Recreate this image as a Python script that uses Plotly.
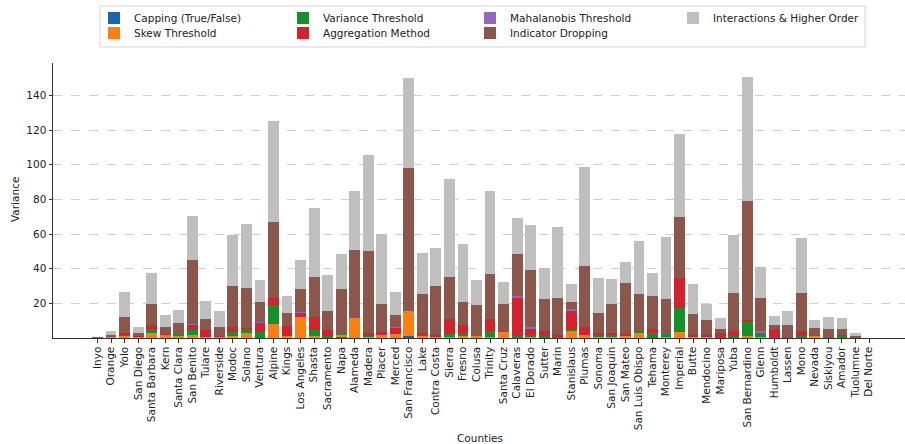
import plotly.graph_objects as go

counties = [
    "Inyo", "Orange", "Yolo", "San Diego", "Santa Barbara", "Kern", "Santa Clara",
    "San Benito", "Tulare", "Riverside", "Modoc", "Solano", "Ventura", "Alpine",
    "Kings", "Los Angeles", "Shasta", "Sacramento", "Napa", "Alameda", "Madera",
    "Placer", "Merced", "San Francisco", "Lake", "Contra Costa", "Sierra", "Fresno",
    "Colusa", "Trinity", "Santa Cruz", "Calaveras", "El Dorado", "Sutter", "Marin",
    "Stanislaus", "Plumas", "Sonoma", "San Joaquin", "San Mateo", "San Luis Obispo",
    "Tehama", "Monterey", "Imperial", "Butte", "Mendocino", "Mariposa", "Yuba",
    "San Bernardino", "Glenn", "Humboldt", "Lassen", "Mono", "Nevada", "Siskiyou",
    "Amador", "Tuolumne", "Del Norte",
]

# variance contribution of each uncertainty source, per county
capping = [0, 0, 0, 0, 0, 0, 0, 0, 0, 0, 0, 0, 0, 0, 0, 0, 0, 0, 0.9, 0,
           0, 0, 0, 1.0, 0, 0, 0, 0, 0, 0, 0, 0, 0, 0, 0, 0, 0, 0, 0, 0,
           0, 0, 0, 0, 0, 0, 0, 0, 0, 0, 0, 0, 0, 0, 0, 0, 0, 0]
skew = [0, 0.6, 1.0, 1.0, 2.7, 1.9, 1.5, 1.7, 0.5, 1.0, 1.2, 3.1, 0, 7.9, 1.0, 12.1,
        1.0, 0, 1.0, 11.8, 0.7, 1.7, 2.1, 14.6, 1.2, 0.8, 0.8, 1.2, 1.0, 0.3, 3.5, 0,
        1.0, 0, 0, 4.0, 1.7, 1.0, 1.0, 1.0, 2.7, 0, 0.5, 3.3, 0.5, 0.5, 0, 0,
        1.3, 0.5, 0, 0, 0, 1.3, 0, 0, 0, 0]
variance = [0, 0, 1.3, 0, 2.5, 0, 0.6, 2.9, 0, 0, 2.3, 2.3, 3.5, 11.0, 0, 0,
            3.6, 1.0, 0.4, 0, 0.6, 0, 0, 0, 0.9, 0, 1.3, 0.9, 0, 3.7, 0.7, 1.0,
            0.7, 1.0, 1.0, 1.4, 0, 0.7, 0.9, 0, 1.3, 2.7, 1.6, 14.0, 0, 0, 0.8, 1.2,
            8.3, 2.6, 0.4, 0.3, 1.2, 0.5, 0, 1.3, 0, 0]
aggregation = [0, 0.3, 0.8, 0.3, 2.1, 0.3, 0, 3.3, 3.9, 0.2, 2.9, 0.3, 5.7, 4.2, 6.1, 2.5,
               7.5, 3.4, 0, 0, 1.6, 1.6, 4.0, 0, 0.8, 0.9, 9.1, 5.6, 0, 7.2, 0, 22.1,
               3.7, 3.0, 0.9, 10.4, 4.5, 1.4, 0.8, 1.5, 0, 2.7, 0, 17.2, 1.4, 1.2, 2.3, 2.8,
               0.8, 0.3, 5.0, 0, 2.8, 0, 0, 0.3, 0.2, 0]
mahalanobis = [0, 0, 0, 0, 0, 0, 0, 0.4, 0, 0, 0, 0, 0.3, 0, 0, 0.3,
               0, 0, 0, 0, 0, 0, 0.3, 0, 0, 0, 0, 0, 0, 0, 0, 1.2,
               1.0, 0, 0, 0.8, 0, 0, 0, 0, 0, 0, 0, 0, 0, 0, 0, 0,
               0, 0.6, 0, 0, 0, 0, 0, 0, 0, 0]
indicator = [0.4, 1.0, 9.0, 1.8, 12.2, 4.0, 6.8, 36.6, 6.8, 5.4, 23.5, 23.0, 11.1, 44.1, 7.2, 13.4,
             23.2, 11.2, 25.8, 39.1, 47.4, 16.5, 6.9, 82.5, 22.7, 28.2, 24.1, 13.1, 18.3, 26.0, 15.6, 23.9,
             32.9, 18.4, 21.2, 4.4, 35.4, 11.5, 16.8, 29.1, 21.6, 18.7, 20.6, 35.1, 11.8, 8.7, 2.3, 22.2,
             68.8, 19.1, 2.3, 7.4, 22.2, 4.0, 5.0, 3.6, 1.0, 0]
interactions = [0, 2.1, 14.3, 3.3, 17.9, 7.3, 7.3, 25.6, 10.2, 9.0, 29.8, 37.2, 13.1, 58.2, 10.0, 17.0,
                39.5, 20.8, 20.1, 33.7, 55.5, 40.3, 13.5, 52.0, 23.3, 22.1, 56.6, 33.5, 14.0, 47.8, 12.6, 21.0,
                26.2, 17.9, 40.7, 10.4, 57.2, 20.3, 14.4, 12.5, 30.5, 13.3, 35.7, 48.3, 17.7, 9.4, 6.0, 33.1,
                71.3, 17.9, 5.0, 7.9, 31.4, 4.6, 7.3, 6.4, 1.5, 0]

y_ticks = [20, 40, 60, 80, 100, 120, 140]

series = [
    ("Capping (True/False)", capping, "#1764b0"),
    ("Skew Threshold", skew, "#ff7f0e"),
    ("Variance Threshold", variance, "#13912a"),
    ("Aggregation Method", aggregation, "#d4212b"),
    ("Mahalanobis Threshold", mahalanobis, "#9467bd"),
    ("Indicator Dropping", indicator, "#8c564b"),
    ("Interactions & Higher Order", interactions, "#bfbfbf"),
]

# page geometry (px)
W, H = 905, 444
L, R, T, B = 53, 0, 63, 106
pw, ph = W - L - R, H - T - B


def px_x(px):
    return (px - L) / pw


def px_y(py):
    return (H - B - py) / ph


FONT = "DejaVu Sans"
fig = go.Figure()

# one single-entry legend per key, laid out in a 4-column grid
legend_slots = [
    ("legend", 134, 18), ("legend2", 134, 33),
    ("legend3", 323, 18), ("legend4", 323, 33),
    ("legend5", 510, 18), ("legend6", 510, 33),
    ("legend7", 713, 18),
]

for (name, vals, color), (lg, _, _) in zip(series, legend_slots):
    fig.add_trace(go.Bar(
        x=counties, y=vals, name=name,
        marker=dict(color=color, line=dict(width=0)),
        width=0.8, legend=lg,
    ))

layout_legends = {}
for lg, tx, ty in legend_slots:
    layout_legends[lg] = dict(
        x=px_x(tx - 40), y=px_y(ty), xanchor="left", yanchor="middle",
        bgcolor="rgba(0,0,0,0)", borderwidth=0,
        font=dict(family=FONT, size=10.5, color="#222"),
    )

fig.update_layout(
    width=W, height=H,
    margin=dict(l=L, r=R, t=T, b=B, autoexpand=False),
    barmode="stack", bargap=0.2,
    plot_bgcolor="white", paper_bgcolor="white",
    font=dict(family=FONT, size=10.5, color="#222"),
    showlegend=True,
    **layout_legends,
    xaxis=dict(
        type="category", range=[-3.29, 59.66],
        showline=True, linecolor="#333", linewidth=1,
        ticks="outside", ticklen=3.5, tickcolor="#333", tickwidth=0.8,
        tickangle=-90, tickfont=dict(family=FONT, size=10.5, color="#222"),
        showgrid=False, automargin=False,
    ),
    yaxis=dict(
        range=[0, 158.7], tickvals=y_ticks,
        showline=True, linecolor="#333", linewidth=1,
        ticks="outside", ticklen=3.5, tickcolor="#333", tickwidth=0.8,
        tickfont=dict(family=FONT, size=10.5, color="#222"),
        showgrid=True, gridcolor="#d0d0d0", gridwidth=0.8, griddash="dash",
        zeroline=False, automargin=False,
    ),
    annotations=[
        dict(text="Counties", x=px_x(480), y=px_y(438), xref="paper", yref="paper",
             showarrow=False, xanchor="center", yanchor="middle",
             font=dict(family=FONT, size=10.5, color="#222")),
        dict(text="Variance", x=px_x(15), y=px_y(200), xref="paper", yref="paper",
             showarrow=False, xanchor="center", yanchor="middle", textangle=-90,
             font=dict(family=FONT, size=10.5, color="#222")),
    ],
    shapes=[
        dict(type="rect", xref="paper", yref="paper",
             x0=px_x(100), x1=px_x(865), y0=px_y(47), y1=px_y(6),
             line=dict(color="#d6d6d6", width=1), fillcolor="rgba(255,255,255,0.8)",
             layer="below"),
    ],
)

fig.write_html("out.html")
